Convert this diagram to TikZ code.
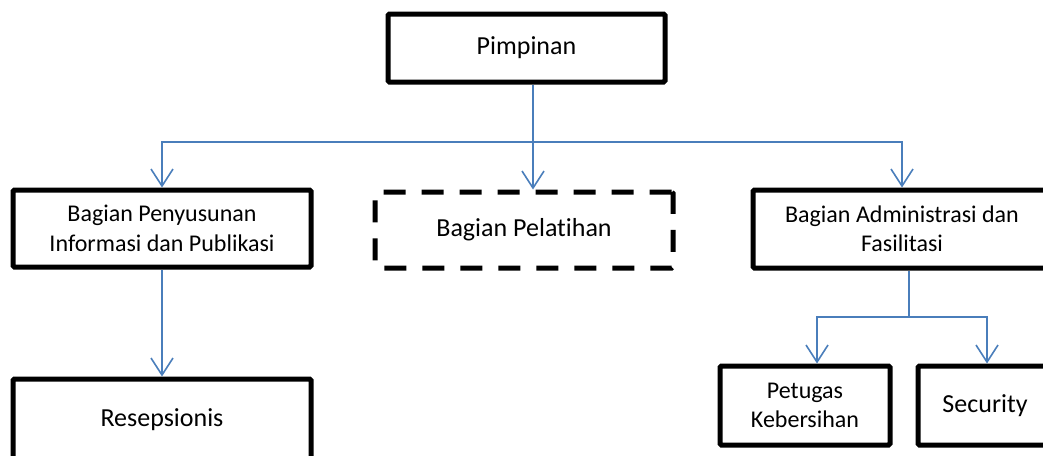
\documentclass[tikz,border=0pt]{standalone}
\usepackage{fontspec}
\setmainfont[Ligatures={NoCommon}]{Carlito}
\usetikzlibrary{arrows.meta}
\definecolor{linkblue}{HTML}{4A7EBB}
\tikzset{
  box/.style={draw=black, line width=5pt, rounded corners=1.5pt, fill=white, align=center, inner sep=0pt},
  dbox/.style={box, dash pattern=on 22pt off 16pt},
  big/.style={font=\fontsize{26}{31}\selectfont},
  small/.style={font=\fontsize{24}{29.5}\selectfont},
  conn/.style={draw=linkblue, line width=1.6pt},
  arr/.style={conn, -{Straight Barb[length=17pt,width=22pt,line width=1.6pt]}}
}
\begin{document}
\begin{tikzpicture}[x=1pt,y=-1pt]
\useasboundingbox (0,0) rectangle (1043,455);
\clip (0,0) rectangle (1043,455);
\node[box, big, minimum width=277pt, minimum height=68pt] (pim) at (526.5,48) {Pimpinan};
\node[box, small, minimum width=298pt, minimum height=77pt] (pen) at (162,228.5) {Bagian Penyusunan\\Informasi dan Publikasi};
\node[dbox, big, minimum width=298pt, minimum height=76pt] (pel) at (524,230) {Bagian Pelatihan};
\node[box, small, minimum width=298pt, minimum height=78pt] (adm) at (902,229) {Bagian Administrasi dan\\Fasilitasi};
\node[box, big, minimum width=298pt, minimum height=82pt] (res) at (162,420) {Resepsionis};
\node[box, small, minimum width=170pt, minimum height=79pt] (pet) at (805,405.5) {Petugas\\Kebersihan};
\node[box, big, minimum width=134pt, minimum height=79pt] (sec) at (985,405.5) {Security};
\coordinate (j1) at (533,142);
\coordinate (j2) at (909,317);
\coordinate (d1) at (817,0);
\coordinate (d2) at (987,0);
\draw[conn] (pim.south -| j1) -- (j1);
\draw[arr] (j1) -| (pen.north);
\draw[arr] (j1) -- (j1 |- pel.north);
\draw[arr] (j1) -| (adm.north);
\draw[arr] (pen.south) -- (res.north);
\draw[conn] (adm.south -| j2) -- (j2);
\draw[arr] (j2) -| (d1 |- pet.north);
\draw[arr] (j2) -| (d2 |- sec.north);
\end{tikzpicture}
\end{document}
